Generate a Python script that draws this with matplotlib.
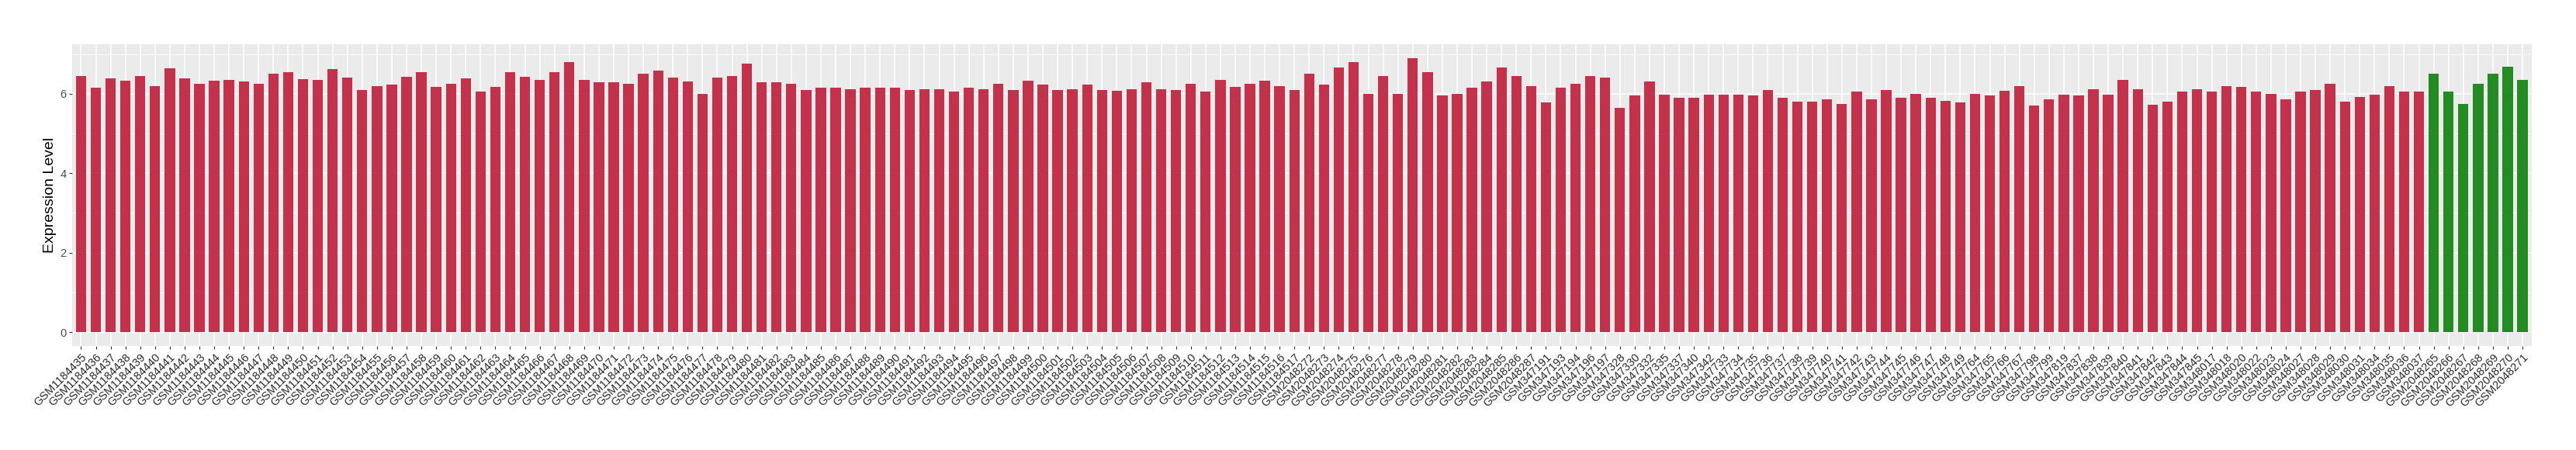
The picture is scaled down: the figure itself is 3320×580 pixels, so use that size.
import numpy as np
import matplotlib
matplotlib.use("Agg")
from matplotlib import pyplot as plt
from matplotlib.ticker import MultipleLocator

plt.rcParams['font.family'] = ['Liberation Sans', 'DejaVu Sans']

# sample ids, in plot order
ids_a = ["GSM%d" % n for n in range(1184435, 1184518)]
ids_b = ["GSM%d" % n for n in range(2048272, 2048288)]
ids_c = ["GSM347191", "GSM347193", "GSM347194", "GSM347196", "GSM347197",
         "GSM347328", "GSM347330", "GSM347332", "GSM347335", "GSM347337",
         "GSM347340", "GSM347342"] + ["GSM%d" % n for n in range(347733, 347750)] + \
        ["GSM347764", "GSM347765", "GSM347766", "GSM347767", "GSM347798",
         "GSM347799", "GSM347819"] + ["GSM%d" % n for n in range(347837, 347846)] + \
        ["GSM348017", "GSM348018", "GSM348020", "GSM348022", "GSM348023",
         "GSM348024", "GSM348027", "GSM348028", "GSM348029", "GSM348030",
         "GSM348031", "GSM348034", "GSM348035", "GSM348036", "GSM348037"]
ids_green = ["GSM%d" % n for n in range(2048265, 2048272)]

vals_a = [6.45, 6.16, 6.39, 6.33, 6.45, 6.20, 6.63, 6.39, 6.25, 6.33, 6.35, 6.31, 6.24, 6.51, 6.55, 6.37,
          6.35, 6.62, 6.40, 6.10, 6.20, 6.22, 6.42, 6.55, 6.18, 6.25, 6.38, 6.05, 6.18, 6.55, 6.42, 6.35,
          6.55, 6.80, 6.35, 6.28, 6.28, 6.25, 6.50, 6.58, 6.40, 6.30, 6.00, 6.40, 6.45, 6.75, 6.28, 6.28,
          6.25, 6.10, 6.15, 6.15, 6.12, 6.15, 6.15, 6.15, 6.10, 6.12, 6.12, 6.05, 6.15, 6.12, 6.25, 6.10,
          6.32, 6.22, 6.10, 6.12, 6.22, 6.10, 6.08, 6.12, 6.28, 6.12, 6.10, 6.25, 6.05, 6.35, 6.18, 6.25,
          6.32, 6.20, 6.10]
vals_b = [6.50, 6.22, 6.65, 6.80, 6.00, 6.45, 6.00, 6.90, 6.55, 5.95, 6.00, 6.15, 6.30, 6.65, 6.45, 6.20]
vals_c = [5.78, 6.15, 6.25, 6.45, 6.40, 5.65, 5.95, 6.30, 5.98, 5.90,
          5.90, 5.98, 5.98, 5.98, 5.95, 6.10, 5.90, 5.80, 5.80, 5.85,
          5.75, 6.05, 5.85, 6.10, 5.90, 6.00, 5.90, 5.82, 5.78, 6.00,
          5.95, 6.08, 6.20, 5.70, 5.85, 5.98, 5.95, 6.12, 5.98, 6.35,
          6.12, 5.72, 5.80, 6.05, 6.12, 6.05, 6.20, 6.18, 6.05, 6.00,
          5.85, 6.05, 6.10, 6.25, 5.80, 5.92, 5.98, 6.20, 6.05, 6.05]
vals_green = [6.50, 6.05, 5.75, 6.25, 6.50, 6.68, 6.35]

red = "#C3324A"
green = "#228B22"

labels = ids_a + ids_b + ids_c + ids_green
values = vals_a + vals_b + vals_c + vals_green
colors = [red] * (len(ids_a) + len(ids_b) + len(ids_c)) + [green] * len(ids_green)

fig = plt.figure(figsize=(33.2, 5.8), dpi=100)
ax = fig.add_axes([93 / 3320, 1 - 445.7 / 580, (3262.5 - 93) / 3320, (445.7 - 57) / 580])

x = np.arange(len(values))
ax.bar(x, values, width=0.7, color=colors, zorder=3)

# ggplot-like 5% expansion on y, 0.6 on the discrete x
ymax = max(values)
ax.set_ylim(-0.05 * ymax, 1.05 * ymax)
ax.set_xlim(-0.6, len(values) - 1 + 0.6)

ax.set_facecolor("#EBEBEB")
ax.yaxis.set_minor_locator(MultipleLocator(1))
ax.set_xticks(x)
ax.set_xticklabels(labels, rotation=45, ha="right", va="top", rotation_mode="anchor",
                   fontsize=10.5, color="#2B2B2B")
ax.set_yticks([0, 2, 4, 6])
ax.set_yticklabels(["0", "2", "4", "6"], fontsize=10.5, color="#4D4D4D")
ax.grid(which="major", color="white", linewidth=1.1, zorder=0)
ax.grid(which="minor", axis="y", color="white", linewidth=0.55, zorder=0)
ax.tick_params(which="major", length=3, width=0.8, color="#333333", pad=2.5)
ax.tick_params(which="minor", length=0)
for s in ax.spines.values():
    s.set_visible(False)

ax.set_ylabel("Expression Level", fontsize=14, labelpad=3)

fig.savefig("out.png", dpi=100)
